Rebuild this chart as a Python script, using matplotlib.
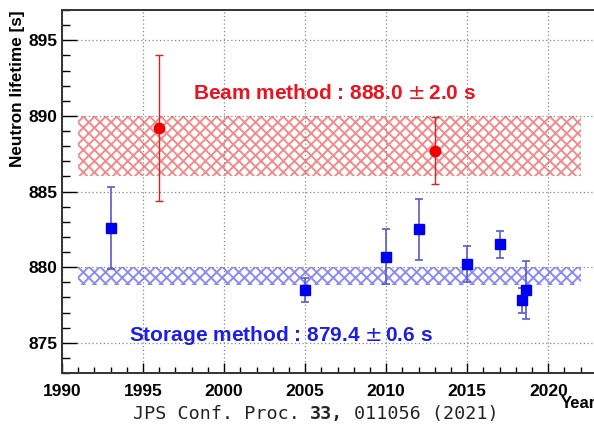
import numpy as np
import matplotlib.pyplot as plt

# storage (bottle) experiments
storage_year = [1993, 2005, 2010, 2012, 2015, 2017, 2018.35, 2018.65]
storage_tau = [882.6, 878.5, 880.7, 882.5, 880.2, 881.5, 877.8, 878.5]
storage_err = [2.7, 0.8, 1.8, 2.0, 1.2, 0.9, 0.8, 1.9]

# beam experiments
beam_year = [1996, 2013]
beam_tau = [889.2, 887.7]
beam_err = [4.8, 2.2]

# averages
beam_avg, beam_avg_err = 888.0, 2.0
storage_avg, storage_avg_err = 879.4, 0.6
band_years = [1991, 2022]

plt.rcParams['font.family'] = ['Liberation Sans', 'DejaVu Sans']
plt.rcParams['hatch.linewidth'] = 1.4

fig = plt.figure(figsize=(5.94, 4.24), dpi=100)
ax = fig.add_axes([62/594, 51/424, 543/594, 363/424])

ax.set_xlim(1990, 2023.5)
ax.set_ylim(873, 897)

ax.fill_between(band_years, beam_avg - beam_avg_err, beam_avg + beam_avg_err,
                facecolor='none', edgecolor='#f08c8c', hatch='xxx', linewidth=0, zorder=1)
ax.fill_between(band_years, 878.8, storage_avg + storage_avg_err,
                facecolor='none', edgecolor='#8c8cf0', hatch='xxx', linewidth=0, zorder=1)

ax.errorbar(storage_year, storage_tau, yerr=storage_err, fmt='s', color='#0000f0',
            ecolor='#5a5ad0', elinewidth=1.2, capsize=3, capthick=1.2, markersize=7, zorder=3)
ax.errorbar(beam_year, beam_tau, yerr=beam_err, fmt='o', color='#f00000',
            ecolor='#e02020', elinewidth=1.0, capsize=3, capthick=1.0, markersize=7.5, zorder=3)

ax.text(2006.8, 891.5, 'Beam method : 888.0 $\\pm\\,$2.0 s', color='#e8141e', fontsize=15,
        fontweight='bold', ha='center', va='center')
ax.text(2003.5, 875.45, 'Storage method : 879.4 $\\pm\\,$0.6 s', color='#1e1ee6', fontsize=15,
        fontweight='bold', ha='center', va='center')

ax.set_xticks(np.arange(1990, 2021, 5))
ax.set_xticks(np.arange(1990, 2024, 1), minor=True)
ax.set_yticks(np.arange(875, 896, 5))
ax.set_yticks(np.arange(873, 898, 1), minor=True)
ax.grid(True, which='major', linestyle=(0, (1, 2)), color='#888888', linewidth=0.9)
ax.tick_params(which='both', direction='in', labelsize=12.5, top=False, right=False)
ax.tick_params(axis='y', which='major', length=11, width=1)
ax.tick_params(axis='y', which='minor', length=5.5, width=1)
ax.tick_params(axis='x', which='major', length=7, width=1, pad=8)
ax.tick_params(axis='x', which='minor', length=4, width=1)
for lab in ax.get_xticklabels() + ax.get_yticklabels():
    lab.set_fontweight('bold')
for s in ax.spines.values():
    s.set_linewidth(1.4)
    s.set_color('#333333')

fig.text(18/594, 1 - 10/424, 'Neutron lifetime [s]', rotation=90, ha='center', va='top',
         fontsize=12.3, fontweight='bold')
fig.text(561/594, 1 - 403/424, 'Year', ha='left', va='center', fontsize=12, fontweight='bold')

# caption: monospace, so the pieces sit at fixed character widths
cap_fs = 13.2
cw = 0.602 * cap_fs * 100 / 72
cap_x = 133
cap_y = 1 - 414/424
fig.text(cap_x/594, cap_y, 'JPS Conf. Proc.', family='DejaVu Sans Mono',
         fontsize=cap_fs, ha='left', va='center', color='#222222')
fig.text((cap_x + 16*cw)/594, cap_y, '33,', family='DejaVu Sans Mono',
         fontsize=cap_fs, fontweight='bold', ha='left', va='center', color='#222222')
fig.text((cap_x + 20*cw)/594, cap_y, '011056 (2021)', family='DejaVu Sans Mono',
         fontsize=cap_fs, ha='left', va='center', color='#222222')

fig.savefig('out.png', dpi=100)
